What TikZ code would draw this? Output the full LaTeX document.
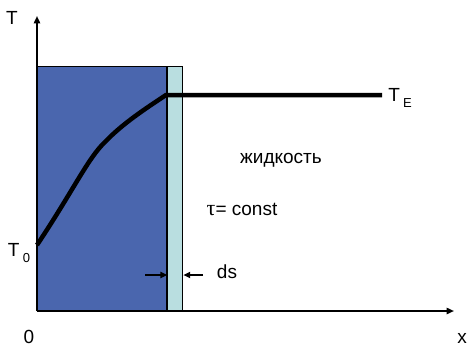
\documentclass[tikz,border=0pt]{standalone}
\usepackage{fontspec}
\setmainfont{Liberation Sans}
\newfontfamily\greekfont{Liberation Serif}
\usepackage{tikz}
\usetikzlibrary{arrows.meta, positioning}
\definecolor{wallblue}{RGB}{74,102,174}
\definecolor{layercyan}{RGB}{185,222,224}
\tikzset{
  wallbox/.style={rectangle, draw=black, fill=wallblue, line width=1.2pt, inner sep=0pt},
  layerbox/.style={rectangle, draw=black, fill=layercyan, line width=1.2pt, inner sep=0pt},
  axisarr/.style={line width=1.8pt, -{Triangle[length=2.6mm, width=2.2mm]}},
  dsarr/.style={line width=1.3pt, -{Triangle[length=2.4mm, width=2.2mm]}},
  profile/.style={line width=4.5pt, line join=round},
  lbl/.style={inner sep=0pt, font=\fontsize{19}{21}\selectfont},
}
\newcommand{\subtxt}[1]{\,\raisebox{-6pt}{\fontsize{13}{15}\selectfont #1}}

\begin{document}
\begin{tikzpicture}[x=1pt, y=-1pt]
\useasboundingbox (0,0) rectangle (468,348);
% wall and thin layer ds
\node[wallbox, minimum width=129pt, minimum height=244pt, anchor=south west] (wall) at (37,311) {};
\node[layerbox, minimum width=15pt, minimum height=244pt, anchor=south west] (layer) at (wall.south east) {};
% axes
\coordinate (o) at (37,311);
\coordinate (ytip) at (37,16);
\coordinate (xtip) at (454,311);
\draw[axisarr] (o) -- (ytip);
\draw[axisarr] (o) -- (xtip);
% temperature profile
\coordinate (t0) at (37,245);
\coordinate (tk) at (105,142);
\coordinate (tw) at (166,95);
\coordinate (te) at (382,95);
\draw[profile] (t0) .. controls (73,191) and (88,158) .. (tk)
  .. controls (123,123) and (148,107) .. (tw) -- (te);
% ds markers
\coordinate (dsl) at (145,275);
\coordinate (dsr) at (203,275);
\draw[dsarr] (dsl) -- (dsl -| layer.west);
\draw[dsarr] (dsr) -- (dsr -| layer.east);
% labels
\node[lbl] (tlab) at (12,18) {T};
\node[lbl] (t0lab) at (19,253) {T\subtxt{0}};
\node[lbl] (zero) at (29,337) {0};
\node[lbl] (xlab) at (462,338) {x};
\node[lbl] (telab) at (400,98) {T\subtxt{E}};
\node[lbl] (liquid) at (281,160) {жидкость};
\node[lbl] (tau) at (242,209) {{\greekfont\fontsize{22}{24}\selectfont τ}= const};
\node[lbl] (dslab) at (227,272) {ds};
\end{tikzpicture}
\end{document}
